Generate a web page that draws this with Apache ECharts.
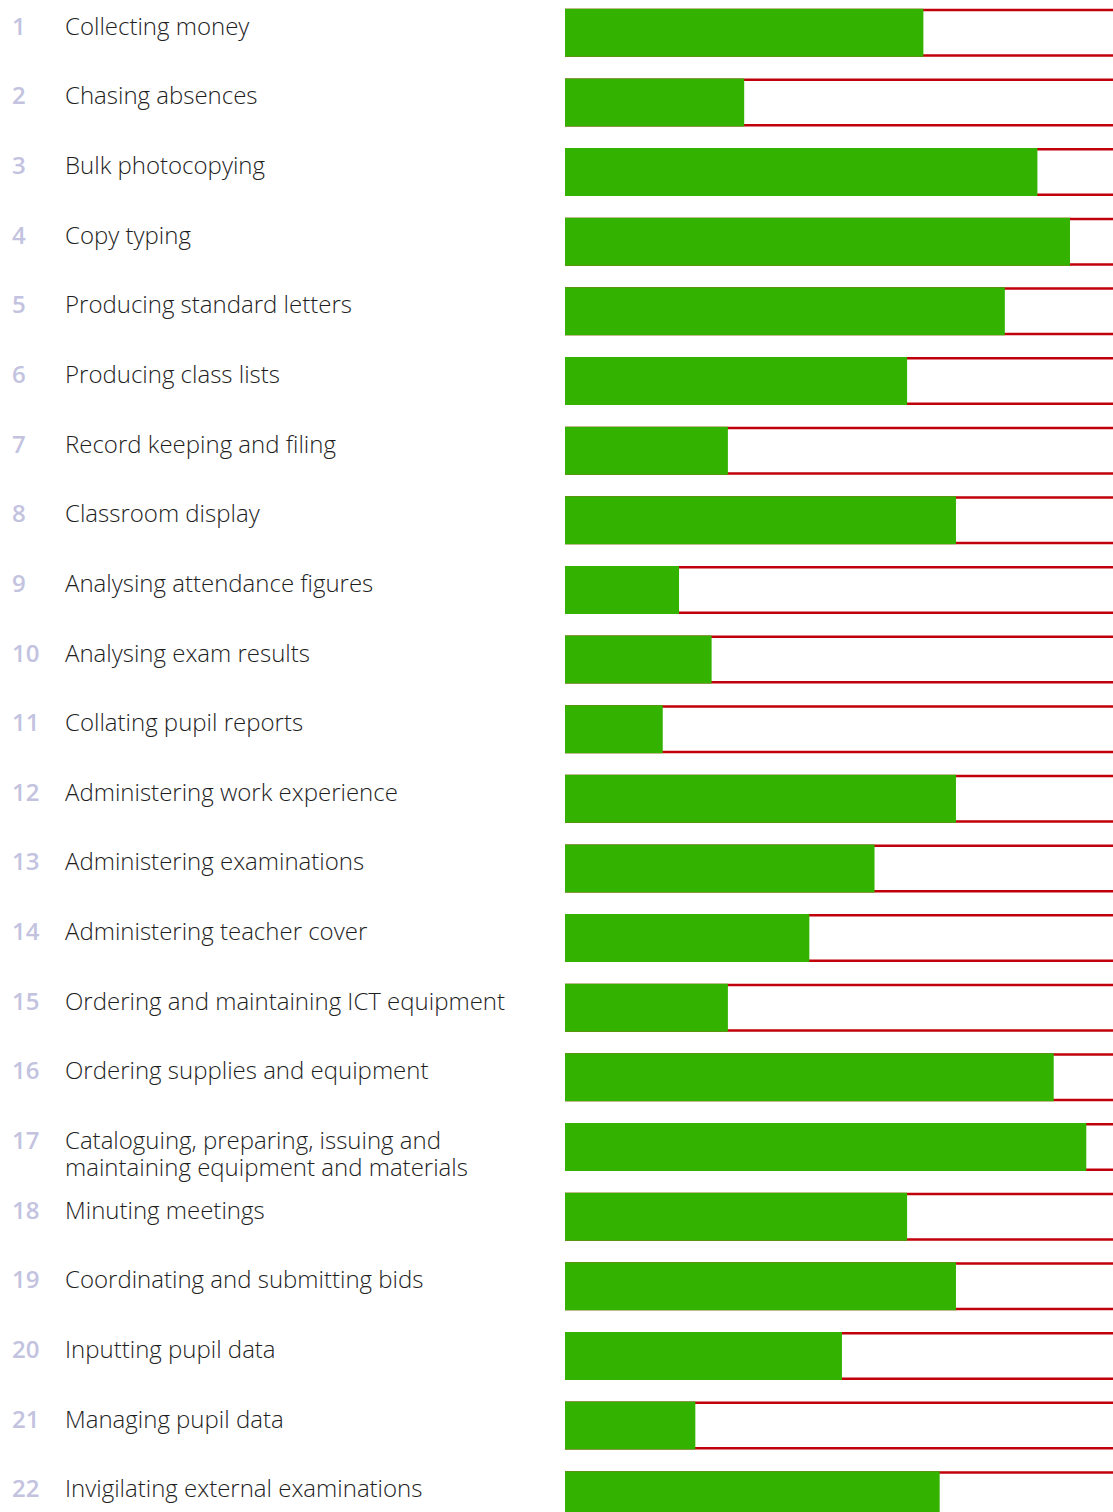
<!DOCTYPE html>
<html>
<head>
<meta charset="utf-8">
<script src="https://cdn.jsdelivr.net/npm/echarts@6/dist/echarts.min.js"></script>
<style>
html,body{margin:0;padding:0;background:#fff;overflow:hidden;width:1113px;height:1512px;}
#chart{position:absolute;left:0;top:-2.3px;width:1113px;height:1532px;}
</style>
</head>
<body>
<div id="chart"></div>
<script>
const tickLabels = ['1','2','3','4','5','6','7','8','9','10','11','12','13','14','15','16','17','18','19','20','21','22'];
const categories = [
  'Collecting money',
  'Chasing absences',
  'Bulk photocopying',
  'Copy typing',
  'Producing standard letters',
  'Producing class lists',
  'Record keeping and filing',
  'Classroom display',
  'Analysing attendance figures',
  'Analysing exam results',
  'Collating pupil reports',
  'Administering work experience',
  'Administering examinations',
  'Administering teacher cover',
  'Ordering and maintaining ICT equipment',
  'Ordering supplies and equipment',
  'Cataloguing, preparing, issuing and\nmaintaining equipment and materials',
  'Minuting meetings',
  'Coordinating and submitting bids',
  'Inputting pupil data',
  'Managing pupil data',
  'Invigilating external examinations'
];
const values = [22, 11, 29, 31, 27, 21, 10, 24, 7, 9, 6, 24, 19, 15, 10, 30, 32, 21, 24, 17, 8, 23];
const axisMax = 33.64;

const GREEN = '#33b200';
const RED = '#c0000a';
const NUM_COLOR = '#c3c3df';
const TEXT_COLOR = '#1e1e1e';
const BAR_H = 48;

const chart = echarts.init(document.getElementById('chart'), null, {renderer: 'svg'});

function renderRow(params, api) {
  const idx = api.value(1);
  const start = api.coord([0, idx]);
  const end = api.coord([axisMax, idx]);
  const cy = start[1];
  const lw = 2.5;
  const yTop = cy - BAR_H / 2 + lw / 2;
  const yBot = cy + BAR_H / 2 - lw / 2;
  const textY = cy - 7.5 - 13.5;
  return {
    type: 'group',
    children: [
      {type: 'line', shape: {x1: start[0], y1: yTop, x2: end[0], y2: yTop}, style: {stroke: RED, lineWidth: lw}},
      {type: 'line', shape: {x1: start[0], y1: yBot, x2: end[0], y2: yBot}, style: {stroke: RED, lineWidth: lw}},
      {type: 'text', style: {x: 12, y: textY, text: tickLabels[idx], fill: NUM_COLOR,
        font: '600 24px "Open Sans"', textAlign: 'left', textVerticalAlign: 'top', lineHeight: 27}},
      {type: 'text', style: {x: 65, y: textY, text: categories[idx], fill: TEXT_COLOR,
        font: '300 24px "Open Sans"', textAlign: 'left', textVerticalAlign: 'top', lineHeight: 27}}
    ]
  };
}

chart.setOption({
  animation: false,
  backgroundColor: '#ffffff',
  grid: {left: 565, right: 0, top: 0, bottom: 0},
  xAxis: {type: 'value', min: 0, max: axisMax, show: false},
  yAxis: {type: 'category', data: tickLabels, inverse: true, show: false},
  series: [
    {
      type: 'custom',
      name: 'track',
      renderItem: renderRow,
      data: values.map((v, i) => [v, i]),
      encode: {x: 0, y: 1},
      clip: false,
      z: 1,
      silent: true
    },
    {
      type: 'bar',
      name: 'value',
      data: values,
      barWidth: BAR_H,
      itemStyle: {color: GREEN},
      z: 2,
      silent: true
    }
  ]
});
</script>
</body>
</html>
